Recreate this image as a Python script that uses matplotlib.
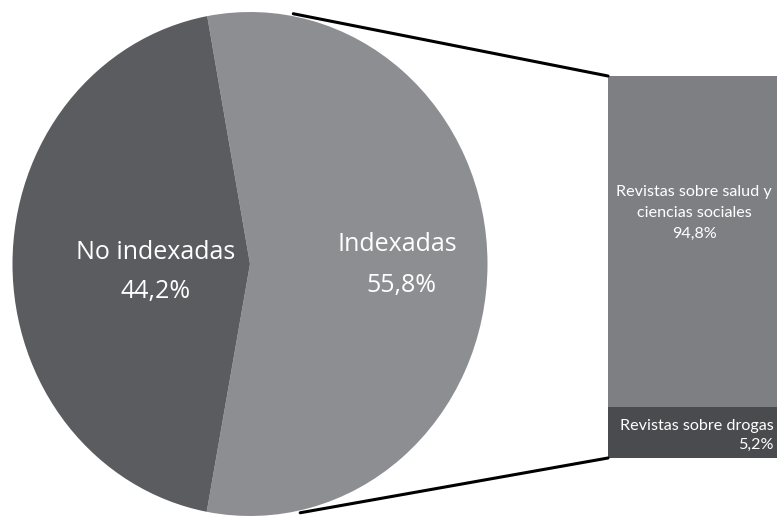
import numpy as np
import matplotlib.pyplot as plt
from matplotlib.patches import ConnectionPatch

# pie data
pie_labels = ["Indexadas", "No indexadas"]
pie_pct = [55.8, 44.2]
pie_colors = ["#8d8e92", "#5b5c60"]

# bar (breakdown of Indexadas)
bar_labels = ["Revistas sobre drogas", "Revistas sobre salud y\nciencias sociales"]
bar_pct = [5.2, 94.8]
bar_colors = ["#4a4b4f", "#7e7f83"]


def fmt(v):
    return f"{v:.1f}%".replace(".", ",")


fig = plt.figure(figsize=(7.82, 5.16), dpi=100)

# pie (slightly stretched vertically like the original)
ax = fig.add_axes([12.5 / 782, 0 / 516, 475 / 782, 504 / 516])
ax.pie(pie_pct, colors=pie_colors, startangle=-100.5, counterclock=True,
       wedgeprops=dict(linewidth=0))
ax.set_aspect("auto")
ax.set_xlim(-1, 1)
ax.set_ylim(-1, 1)
ax.axis("off")

pie_font = dict(family="Open Sans", fontsize=18, color="white", ha="center", va="center")
ax.text(0.62, 0.076, pie_labels[0], **pie_font)
ax.text(0.636, -0.084, fmt(pie_pct[0]), **pie_font)
ax.text(-0.396, 0.044, pie_labels[1], **pie_font)
ax.text(-0.396, -0.108, fmt(pie_pct[1]), **pie_font)

# bar of pie
bx = fig.add_axes([608 / 782, 58 / 516, 169 / 782, 382 / 516])
p = 0.68
bx.set_yscale("function", functions=(lambda y: np.sign(y) * np.abs(y) ** p,
                                     lambda y: np.sign(y) * np.abs(y) ** (1 / p)))
bottom = 0
for v, c in zip(bar_pct, bar_colors):
    bx.bar(0, v, bottom=bottom, width=1, color=c, linewidth=0)
    bottom += v
bx.set_xlim(-0.5, 0.5)
bx.set_ylim(0, sum(bar_pct))
bx.axis("off")

bar_font = dict(family="Lato", fontsize=11.6, color="white")
bx.text(0.51, 0.641, bar_labels[1] + "\n" + fmt(bar_pct[1]), transform=bx.transAxes,
        ha="center", va="center", multialignment="center", linespacing=1.62, **bar_font)
bx.text(0.982, 0.058, bar_labels[0] + "\n" + fmt(bar_pct[0]), transform=bx.transAxes,
        ha="right", va="center", multialignment="right", linespacing=1.45, **bar_font)

# connector lines from the pie to the bar
for ang, yb in [(79.5, 1), (-77.8, 0)]:
    a = np.radians(ang)
    con = ConnectionPatch(xyA=(np.cos(a), np.sin(a) * 1.01), coordsA=ax.transData,
                          xyB=(0, yb), coordsB=bx.transAxes,
                          color="black", linewidth=2.2)
    fig.add_artist(con)

fig.savefig("out.png", dpi=100)
